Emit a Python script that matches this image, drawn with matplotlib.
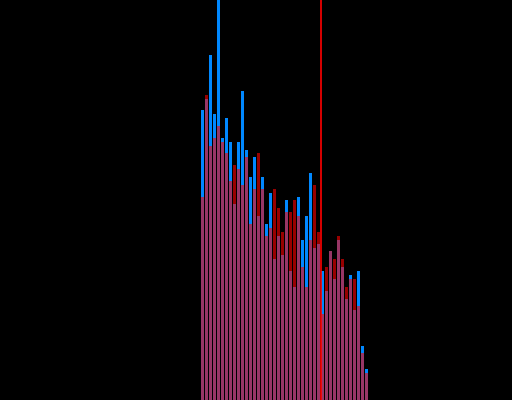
"""Two overlaid histograms (blue opaque, red translucent) on black, with a red marker line."""
import matplotlib

matplotlib.use("Agg")
import matplotlib.pyplot as plt
import numpy as np

# bin index (left edge) and counts per bin
bins = np.arange(42)
blue_counts = [290, 301, 345, 286, 404, 262, 282, 258, 196, 258,
               309, 250, 223, 243, 184, 223, 176, 207, 141, 164,
               145, 200, 129, 113, 203, 160, 184, 227, 152, 156,
               129, 109, 149, 121, 160, 133, 101, 125, 90, 129,
               54, 31]
red_counts = [203, 305, 254, 262, 274, 258, 247, 219, 235, 231,
              215, 243, 176, 211, 247, 211, 164, 172, 211, 192,
              168, 188, 188, 200, 184, 133, 113, 160, 215, 168,
              86, 133, 149, 141, 164, 141, 113, 121, 121, 94,
              47, 27]
marker_x = 29.875

fig = plt.figure(figsize=(5.12, 4.0), dpi=100, facecolor="black")
ax = fig.add_axes([0, 0, 1, 1])
ax.set_facecolor("black")

ax.bar(bins, blue_counts, width=0.75, align="edge", color="#0088ff", linewidth=0)
ax.bar(bins, red_counts, width=0.75, align="edge", color="#ff0000", alpha=0.6, linewidth=0)
ax.axvline(marker_x, color="#ff0000", linewidth=1.2, zorder=5)

ax.set_xlim(-50.25, 77.75)
ax.set_ylim(0, 400)
ax.axis("off")

fig.savefig("out.png", dpi=100, facecolor="black")
